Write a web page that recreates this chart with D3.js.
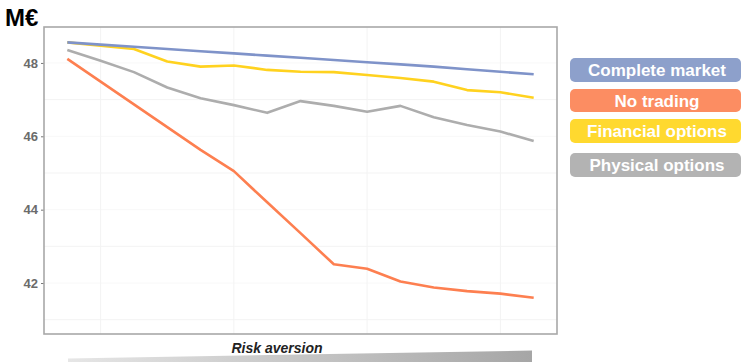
<!DOCTYPE html>
<html>
<head>
<meta charset="utf-8">
<script src="https://cdn.jsdelivr.net/npm/d3@7"></script>
<style>
  html, body { margin: 0; padding: 0; background: #fff; }
  svg { display: block; font-family: "Liberation Sans", Arial, sans-serif; }
</style>
</head>
<body>
<svg id="chart" width="743" height="362"></svg>
<script>
// Risk aversion steps (0 = lowest, 14 = highest)
const steps = d3.range(15);

const seriesNames = ["Complete market", "No trading", "Financial options", "Physical options"];
const seriesColors = ["#8DA0CB", "#FC8D62", "#FFD92F", "#B3B3B3"];
const lineColors = ["#7f93c9", "#fd7f50", "#ffd21f", "#adadad"];

// Expected profit, M€
const completeMarket = [48.56, 48.50, 48.44, 48.38, 48.32, 48.26, 48.20, 48.14, 48.08, 48.02, 47.96, 47.90, 47.83, 47.76, 47.69];
const noTrading      = [48.11, 47.49, 46.87, 46.25, 45.63, 45.05, 44.20, 43.36, 42.51, 42.39, 42.04, 41.88, 41.78, 41.71, 41.60];
const financialOpts  = [48.56, 48.47, 48.38, 48.04, 47.90, 47.93, 47.81, 47.76, 47.75, 47.67, 47.59, 47.49, 47.26, 47.20, 47.05];
const physicalOpts   = [48.35, 48.06, 47.75, 47.33, 47.04, 46.85, 46.64, 46.96, 46.83, 46.67, 46.83, 46.52, 46.31, 46.13, 45.87];

const yTicks = [42, 44, 46, 48];
const yMinorGrid = [41, 43, 45, 47];
const xGrid = [1, 5, 9, 13];

const svg = d3.select("#chart");
const panel = { left: 44, right: 557, top: 27, bottom: 334 };

const x = d3.scaleLinear().domain([-0.7, 14.7]).range([panel.left, panel.right]);
const y = d3.scaleLinear().domain([40.61, 48.98]).range([panel.bottom, panel.top]);

// Unit label
svg.append("text")
  .attr("x", 5).attr("y", 26)
  .attr("font-size", 24).attr("font-weight", "bold").attr("fill", "#000")
  .text("M€");

// Light grid
const grid = svg.append("g").attr("stroke", "#f3f3f3").attr("stroke-width", 1);
grid.selectAll("line.h").data(yMinorGrid).join("line")
  .attr("x1", panel.left).attr("x2", panel.right)
  .attr("y1", d => y(d)).attr("y2", d => y(d));
grid.selectAll("line.h2").data(yTicks).join("line")
  .attr("x1", panel.left).attr("x2", panel.right)
  .attr("y1", d => y(d)).attr("y2", d => y(d)).attr("stroke", "#f8f8f8");
grid.selectAll("line.v").data(xGrid).join("line")
  .attr("y1", panel.top).attr("y2", panel.bottom)
  .attr("x1", d => x(d)).attr("x2", d => x(d));

// Y axis
const yAxis = svg.append("g")
  .attr("transform", `translate(${panel.left},0)`)
  .call(d3.axisLeft(y).tickValues(yTicks).tickSize(3).tickPadding(3).tickFormat(d3.format("d")));
yAxis.select(".domain").remove();
yAxis.selectAll(".tick line").attr("stroke", "#777");
yAxis.selectAll(".tick text")
  .attr("fill", "#6b6b6b").attr("font-size", 13).attr("font-weight", "bold")
  .attr("font-family", "Liberation Sans, Arial, sans-serif");

// Lines
const allSeries = [completeMarket, noTrading, financialOpts, physicalOpts];
const line = d3.line().x((d, i) => x(steps[i])).y(d => y(d));
const drawOrder = [3, 1, 2, 0];
svg.append("g").selectAll("path").data(drawOrder).join("path")
  .attr("d", k => line(allSeries[k]))
  .attr("fill", "none")
  .attr("stroke", k => lineColors[k])
  .attr("stroke-width", 2.6)
  .attr("stroke-linejoin", "round");

// Panel frame
svg.append("rect")
  .attr("x", panel.left).attr("y", panel.top)
  .attr("width", panel.right - panel.left).attr("height", panel.bottom - panel.top)
  .attr("fill", "none").attr("stroke", "#a8a8a8").attr("stroke-width", 1.6);

// Legend
const legendBoxes = [
  { y0: 58, y1: 82 },
  { y0: 89, y1: 112 },
  { y0: 119, y1: 143 },
  { y0: 153, y1: 177 }
];
const legend = svg.append("g");
legend.selectAll("rect").data(seriesNames).join("rect")
  .attr("x", 570).attr("width", 171)
  .attr("y", (d, i) => legendBoxes[i].y0)
  .attr("height", (d, i) => legendBoxes[i].y1 - legendBoxes[i].y0)
  .attr("rx", 5).attr("ry", 5)
  .attr("fill", (d, i) => seriesColors[i]);
legend.selectAll("text").data(seriesNames).join("text")
  .attr("x", 657)
  .attr("y", (d, i) => (legendBoxes[i].y0 + legendBoxes[i].y1) / 2 + 6)
  .attr("text-anchor", "middle")
  .attr("font-size", 17).attr("font-weight", "bold").attr("fill", "#fff")
  .text(d => d);

// X axis title and increasing-risk wedge
svg.append("text")
  .attr("x", 277).attr("y", 353)
  .attr("text-anchor", "middle")
  .attr("font-size", 14).attr("font-weight", "bold").attr("font-style", "italic")
  .attr("fill", "#222")
  .text("Risk aversion");

const defs = svg.append("defs");
const grad = defs.append("linearGradient").attr("id", "wedgeGrad")
  .attr("x1", "0%").attr("x2", "100%").attr("y1", "0%").attr("y2", "0%");
grad.append("stop").attr("offset", "0%").attr("stop-color", "#e6e6e6");
grad.append("stop").attr("offset", "100%").attr("stop-color", "#a6a6a6");
svg.append("polygon")
  .attr("points", [[68, 358.5], [532, 350.5], [532, 362], [68, 362]].map(p => p.join(",")).join(" "))
  .attr("fill", "url(#wedgeGrad)");
</script>
</body>
</html>
